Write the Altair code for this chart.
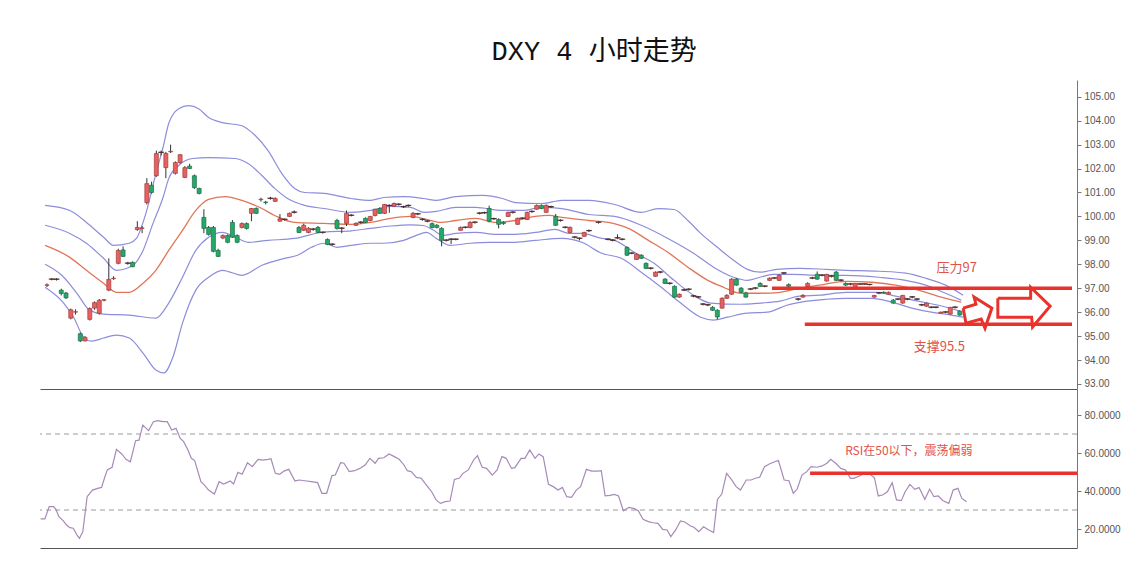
import altair as alt
import pandas as pd

# ---------------- candles (4h bars, index = bar number) ----------------
opens = [97.12, 97.38, 97.37, 96.92, 96.8, 95.75, 96.0, 95.1, 94.8, 95.7,
         96.17, 95.95, 96.5, 96.92, 97.4, 98.04, 98.6, 98.04, 98.08, 99.45,
         99.5, 100.58, 101.3, 101.7, 102.67, 102.04, 102.7, 101.8, 102.25, 101.63,
         102.1, 101.7, 101.17, 99.96, 99.54, 99.54, 98.58, 99.1, 99.2, 99.75,
         99.2, 99.54, 99.7, 100.13, 100.33, 100.7, 100.6, 100.75, 100.63, 99.8,
         99.87, 100.0, 100.17, 99.54, 99.42, 99.33, 99.46, 99.54, 99.33, 99.04,
         98.83, 99.83, 99.5, 99.71, 100.04, 99.63, 99.75, 99.92, 99.83, 100.04,
         100.33, 100.13, 100.45, 100.42, 100.5, 100.4, 100.45, 99.96, 100.1, 99.87,
         99.8, 99.7, 99.63, 99.5, 99.0, 99.04, 99.04, 99.42, 99.54, 99.54,
         99.75, 100.13, 100.15, 100.33, 99.9, 99.87, 99.75, 100.0, 100.17, 99.67,
         99.92, 99.87, 100.2, 100.3, 100.46, 100.17, 100.4, 100.0, 99.83, 99.54,
         99.33, 99.13, 99.08, 99.17, 99.4, None, 99.75, None, 99.04, 99.0,
         99.1, 99.04, 98.7, 98.46, 98.2, 98.38, 98.04, 97.83, 97.5, 97.67,
         97.38, 97.2, 97.08, 96.63, 96.92, 96.95, 96.67, 96.63, 96.33, 96.3,
         96.2, 96.08, 96.17, 96.58, 96.75, 97.38, 97.0, 96.8, 96.96, 97.0,
         97.2, 97.08, 97.33, 97.42, 97.33, 97.63, 97.15, None, 96.54, 96.63,
         97.08, 97.42, 97.58, 97.54, 97.3, 97.5, 97.67, 97.33, 97.2, 97.17,
         97.04, 97.17, 97.17, 97.15, 96.63, 96.8, 96.83, 96.75, 96.5, 96.54,
         96.38, 96.54, 96.63, 96.54, 96.3, 96.25, 96.2, 96.2, 95.96, 96.0,
         95.92, 96.2, 96.04]
highs = [97.2, 97.42, 97.42, 96.98, 96.85, 96.15, 96.12, 95.15, 95.0, 96.2,
         96.45, 96.55, 96.55, 98.25, 97.5, 98.65, 98.75, 98.1, 98.12, 99.8,
         99.6, 101.6, 101.45, 102.75, 102.75, 102.7, 103.0, 102.3, 102.6, 102.1,
         102.2, 101.75, 101.2, 100.3, 99.6, 99.6, 98.65, 99.25, 99.25, 99.85,
         99.25, 99.75, 99.75, 100.35, 100.38, 100.78, 100.65, 100.82, 100.8, 100.1,
         99.92, 100.16, 100.25, 99.6, 99.7, 99.55, 99.52, 99.6, 99.36, 99.08,
         98.88, 99.9, 99.55, 100.25, 100.1, 99.75, 99.8, 99.96, 100.02, 100.32,
         100.38, 100.52, 100.5, 100.58, 100.55, 100.45, 100.5, 100.18, 100.15, 99.92,
         99.85, 99.75, 99.68, 99.55, 99.05, 99.1, 99.08, 99.58, 99.58, 99.8,
         99.8, 100.18, 100.2, 100.45, 99.95, 99.92, 99.8, 100.2, 100.22, 99.95,
         99.96, 100.2, 100.25, 100.5, 100.5, 100.5, 100.45, 100.1, 99.88, 99.58,
         99.58, 99.18, 99.12, 99.36, 99.45, None, 99.8, None, 99.08, 99.04,
         99.25, 99.08, 98.75, 98.5, 98.45, 98.42, 98.08, 97.88, 97.7, 97.72,
         97.42, 97.25, 97.12, 96.78, 96.98, 97.0, 96.72, 96.68, 96.38, 96.35,
         96.25, 96.12, 96.62, 96.75, 97.42, 97.42, 97.05, 96.85, 97.0, 97.05,
         97.25, 97.12, 97.45, 97.46, 97.58, 97.68, 97.2, None, 96.6, 96.75,
         97.25, 97.48, 97.7, 97.58, 97.6, 97.55, 97.72, 97.38, 97.25, 97.22,
         97.22, 97.2, 97.2, 97.18, 96.72, 96.85, 96.87, 96.86, 96.55, 96.58,
         96.72, 96.58, 96.67, 96.58, 96.35, 96.4, 96.24, 96.24, 96.02, 96.04,
         96.22, 96.25, 96.08]
lows = [97.05, 97.33, 97.32, 96.7, 96.55, 95.7, 95.9, 94.75, 94.78, 95.65,
        96.1, 95.9, 96.45, 96.88, 97.35, 98.0, 98.3, 97.98, 97.88, 99.4,
        99.3, 100.5, 100.95, 101.65, 102.55, 101.6, 102.65, 101.75, 102.2, 101.6,
        101.98, 101.15, 100.92, 99.3, 99.2, 98.5, 98.3, 99.05, 98.88, 99.1,
        98.88, 99.5, 99.45, 99.8, 100.1, 100.62, 100.5, 100.7, 100.6, 99.78,
        99.82, 99.98, 100.12, 99.3, 99.4, 99.3, 99.4, 99.3, 99.28, 98.8,
        98.78, 99.45, 99.3, 99.6, 100.0, 99.6, 99.7, 99.72, 99.8, 100.0,
        100.1, 100.1, 100.15, 100.4, 100.45, 100.35, 100.4, 99.92, 100.05, 99.82,
        99.75, 99.5, 99.5, 98.75, 98.95, 98.85, 99.0, 99.4, 99.5, 99.5,
        99.7, 100.08, 100.1, 99.75, 99.85, 99.5, 99.65, 99.98, 100.12, 99.65,
        99.88, 99.85, 100.15, 100.28, 100.3, 100.15, 100.35, 99.6, 99.78, 99.5,
        99.3, 99.08, 99.0, 99.15, 99.35, None, 99.7, None, 99.0, 98.96,
        99.05, 99.0, 98.35, 98.42, 98.18, 98.22, 97.8, 97.78, 97.48, 97.62,
        97.18, 97.15, 96.6, 96.6, 96.88, 96.9, 96.62, 96.58, 96.28, 96.25,
        96.05, 95.7, 96.15, 96.55, 96.72, 97.1, 96.8, 96.6, 96.92, 96.95,
        97.05, 97.04, 97.3, 97.38, 97.3, 97.58, 97.05, None, 96.48, 96.6,
        97.05, 97.38, 97.35, 97.5, 97.28, 97.45, 97.3, 97.28, 97.1, 97.12,
        97.02, 97.14, 97.14, 97.12, 96.6, 96.75, 96.78, 96.73, 96.35, 96.5,
        96.35, 96.5, 96.58, 96.5, 96.25, 96.22, 96.16, 96.16, 95.94, 95.96,
        95.9, 96.15, 95.85]
closes = [97.14, 97.38, 97.38, 96.78, 96.6, 96.1, 96.02, 94.8, 94.95, 96.15,
          96.4, 96.5, 96.52, 97.37, 97.42, 98.58, 98.33, 98.05, 97.9, 99.54,
          99.52, 101.37, 101.0, 102.63, 102.68, 102.63, 102.72, 102.25, 102.58, 102.04,
          102.0, 101.2, 100.96, 99.5, 99.25, 98.54, 98.33, 99.2, 98.92, 99.13,
          98.92, 99.7, 99.5, 100.33, 100.13, 100.72, 100.58, 100.76, 100.75, 99.9,
          99.88, 100.13, 100.18, 99.33, 99.63, 99.5, 99.47, 99.33, 99.34, 98.83,
          98.84, 99.5, 99.51, 100.13, 100.05, 99.71, 99.76, 99.75, 100.0, 100.3,
          100.13, 100.5, 100.46, 100.54, 100.51, 100.41, 100.46, 100.13, 100.11, 99.88,
          99.81, 99.54, 99.54, 99.0, 99.01, 99.05, 99.05, 99.54, 99.55, 99.75,
          99.76, 100.14, 100.16, 99.8, 99.91, 99.67, 99.7, 100.17, 100.18, 99.92,
          99.93, 100.17, 100.21, 100.46, 100.33, 100.46, 100.41, 99.63, 99.84, 99.55,
          99.54, 99.14, 99.09, 99.33, 99.41, None, 99.76, None, 99.05, 99.01,
          99.11, 99.05, 98.38, 98.47, 98.42, 98.25, 97.83, 97.84, 97.67, 97.68,
          97.2, 97.21, 96.63, 96.75, 96.93, 96.96, 96.68, 96.64, 96.34, 96.31,
          96.08, 95.8, 96.58, 96.7, 97.38, 97.13, 96.83, 96.63, 96.97, 97.01,
          97.08, 97.09, 97.42, 97.43, 97.54, 97.64, 97.08, None, 96.55, 96.7,
          97.2, 97.43, 97.38, 97.55, 97.58, 97.51, 97.33, 97.34, 97.13, 97.18,
          97.2, 97.18, 97.18, 97.16, 96.7, 96.81, 96.8, 96.83, 96.38, 96.55,
          96.7, 96.55, 96.64, 96.55, 96.31, 96.38, 96.21, 96.21, 96.0, 96.01,
          96.2, 96.21, 95.88]

# ---------------- Bollinger-style bands (bar, price) ----------------
ub2_bar = [-0.4, 4.8, 8.3, 11.9, 14.0, 17.3, 18.8, 20.8, 22.9, 24.4, 25.6, 27.7, 29.8, 31.9, 34.0, 36.9,
           41.0, 43.8, 46.5, 49.4, 52.1, 54.2, 58.3, 64.0, 68.1, 70.8, 75.0, 79.2, 81.9, 86.0, 91.7,
           95.8, 98.5, 104.2, 108.3, 114.0, 119.4, 125.0, 128.5, 131.9, 134.8, 137.5, 141.0, 144.4,
           147.3, 150.0, 153.5, 158.3, 163.9, 168.1, 175.0, 180.6, 184.8, 189.0, 192.7]
ub2_val = [100.46, 100.25, 99.75, 99.13, 98.79, 98.88, 99.08, 100.13, 101.79, 102.88, 103.88, 104.5,
           104.63, 104.5, 104.13, 103.92, 103.79, 103.38, 102.75, 101.79, 101.17, 101.0, 100.96, 100.75,
           100.67, 100.79, 100.83, 100.75, 100.67, 100.83, 100.88, 100.75, 100.58, 100.54, 100.67,
           100.67, 100.5, 100.17, 100.33, 100.29, 99.83, 99.29, 98.71, 98.17, 97.79, 97.67, 97.79,
           97.83, 97.79, 97.75, 97.71, 97.63, 97.42, 97.13, 96.71]
ub1_bar = [-0.4, 4.8, 8.3, 11.9, 14.6, 18.1, 20.2, 22.3, 24.4, 25.6, 27.7, 30.6, 34.0, 39.6, 42.3, 45.2,
           47.9, 50.6, 54.2, 58.3, 64.0, 68.1, 72.3, 76.5, 79.2, 81.9, 86.0, 90.2, 95.8, 100.0, 104.2,
           108.3, 114.0, 119.4, 125.0, 130.6, 136.0, 140.2, 144.4, 147.3, 150.0, 152.7, 156.9, 162.5,
           168.1, 175.0, 180.6, 184.8, 189.0, 192.3]
ub1_val = [99.63, 99.29, 98.88, 98.25, 97.75, 97.96, 98.58, 99.71, 100.79, 101.58, 102.13, 102.42,
           102.46, 102.42, 102.21, 101.71, 101.17, 100.75, 100.46, 100.33, 100.17, 100.25, 100.42,
           100.38, 100.17, 100.21, 100.38, 100.38, 100.25, 100.25, 100.38, 100.33, 100.08, 100.0,
           99.63, 99.08, 98.46, 97.88, 97.46, 97.33, 97.46, 97.58, 97.58, 97.54, 97.54, 97.46, 97.33,
           97.13, 96.79, 96.5]
mid_bar = [-0.4, 4.8, 8.3, 11.9, 14.6, 17.3, 20.2, 22.9, 25.6, 28.5, 31.3, 34.0, 37.5, 41.0, 45.2, 47.9,
           52.1, 58.3, 64.0, 68.1, 72.3, 76.5, 79.8, 82.7, 86.0, 90.2, 94.4, 98.5, 102.7, 105.6, 108.3,
           114.0, 118.1, 122.3, 126.5, 130.6, 134.8, 139.0, 142.3, 145.8, 150.0, 154.2, 158.3, 162.5,
           168.1, 173.5, 178.5, 183.3, 188.1, 192.3]
mid_val = [98.79, 98.29, 97.75, 97.21, 96.83, 96.83, 97.21, 97.75, 98.58, 99.42, 100.25, 100.71, 100.83,
           100.67, 100.33, 100.04, 99.75, 99.71, 99.67, 99.75, 99.92, 100.0, 99.88, 99.75, 99.83, 99.92,
           99.75, 99.83, 100.0, 100.04, 99.96, 99.83, 99.75, 99.5, 99.0, 98.5, 97.88, 97.33, 97.04,
           96.79, 96.79, 96.83, 97.0, 97.13, 97.29, 97.25, 97.13, 96.92, 96.63, 96.42]
lb1_bar = [-0.4, 3.1, 6.3, 9.0, 11.9, 17.3, 22.9, 25.6, 28.5, 31.3, 34.0, 36.9, 39.6, 42.3, 46.5, 52.1,
           58.3, 64.0, 68.1, 72.3, 76.5, 79.2, 81.3, 83.3, 86.0, 90.2, 94.4, 98.5, 102.7, 106.9, 109.8,
           112.5, 116.7, 119.4, 123.5, 127.7, 131.9, 136.0, 139.6, 145.8, 150.0, 154.2, 158.3, 162.5,
           168.1, 174.4, 178.5, 183.3, 187.5, 192.1]
lb1_val = [98.0, 97.54, 96.79, 96.08, 95.92, 95.88, 95.75, 96.38, 97.46, 98.58, 99.13, 99.33, 99.13,
           98.92, 99.0, 99.08, 99.35, 99.4, 99.5, 99.6, 99.65, 99.62, 99.42, 99.21, 99.29, 99.33, 99.25,
           99.25, 99.33, 99.46, 99.29, 99.29, 99.08, 99.0, 98.5, 98.04, 97.33, 96.71, 96.38, 96.33,
           96.38, 96.46, 96.67, 96.71, 96.83, 96.83, 96.67, 96.46, 96.29, 96.04]
lb2_bar = [-0.4, 3.5, 5.6, 7.7, 9.4, 11.9, 14.6, 17.3, 20.2, 22.9, 24.6, 26.5, 28.5, 31.3, 34.0, 36.9,
           41.0, 45.2, 50.0, 52.7, 55.6, 58.3, 61.0, 64.0, 68.1, 70.8, 75.0, 77.7, 79.8, 81.9, 84.8,
           89.0, 93.1, 98.5, 102.7, 108.3, 112.5, 116.7, 120.8, 125.0, 129.2, 133.3, 137.5, 140.2,
           143.1, 147.3, 151.5, 155.6, 159.8, 163.9, 168.1, 173.5, 177.7, 181.9, 186.0, 190.2, 192.7]
lb2_val = [97.04, 96.38, 95.79, 94.96, 94.79, 94.92, 95.04, 94.92, 94.29, 93.58, 93.46, 94.13, 95.54,
           96.92, 97.46, 97.75, 97.54, 97.96, 98.25, 98.38, 98.71, 98.88, 98.71, 98.79, 98.88, 98.88,
           99.0, 99.21, 99.33, 99.08, 98.79, 98.88, 98.92, 98.92, 99.0, 99.08, 98.92, 98.46, 98.25,
           97.67, 97.04, 96.38, 95.79, 95.67, 95.79, 95.96, 96.0, 96.29, 96.46, 96.54, 96.58, 96.58,
           96.42, 96.17, 96.0, 95.88, 95.79]

# ---------------- RSI (bar, value) ----------------
rsi_bar = [-0.3, 0.6, 1.5, 2.4, 2.9, 3.5, 4.4, 5.1, 5.8, 6.5, 7.3, 7.8, 8.5, 9.4, 10.5, 11.6, 12.4, 13.0,
           13.6, 14.6, 15.5, 16.6, 17.5, 18.4, 19.5, 20.2, 21.0, 22.2, 23.2, 24.1, 25.2, 26.1, 27.0, 27.9,
           28.8, 29.5, 30.4, 31.1, 31.8, 33.1, 33.8, 34.7, 35.9, 36.9, 37.8, 38.5, 39.2, 39.9, 40.8, 41.7,
           42.8, 43.8, 45.0, 46.0, 47.1, 47.7, 48.6, 49.5, 50.4, 51.4, 52.7, 53.6, 54.7, 56.1, 57.4, 58.3,
           59.3, 60.4, 61.1, 62.2, 62.9, 64.0, 65.1, 66.2, 67.3, 68.3, 69.4, 70.1, 71.2, 72.3, 73.4, 74.4,
           75.4, 76.1, 76.9, 78.0, 79.0, 79.8, 80.5, 81.3, 82.1, 83.0, 84.0, 85.0, 85.9, 86.9, 87.7, 88.8,
           89.9, 90.7, 91.7, 92.6, 93.8, 94.8, 95.8, 96.7, 97.8, 98.5, 99.8, 100.6, 101.6, 102.7, 103.5,
           104.4, 105.5, 106.5, 107.5, 108.4, 109.3, 110.3, 111.3, 112.2, 113.4, 114.5, 115.7, 116.5,
           117.3, 118.3, 119.2, 120.1, 121.1, 122.3, 123.4, 124.2, 125.2, 126.3, 127.3, 128.3, 129.3,
           130.2, 131.0, 132.0, 133.0, 133.9, 135.1, 135.8, 136.8, 137.8, 138.9, 139.9, 140.7, 141.6,
           142.6, 143.6, 144.6, 145.5, 146.7, 147.7, 148.6, 149.5, 150.5, 151.5, 152.6, 153.4, 154.6,
           155.6, 156.5, 157.3, 158.3, 159.3, 160.2, 161.4, 162.5, 163.5, 164.3, 165.5, 166.4, 167.4,
           168.4, 169.1, 170.3, 171.5, 172.5, 173.4, 174.2, 175.1, 176.1, 177.1, 178.0, 179.0, 179.8,
           180.8, 181.8, 182.7, 183.9, 184.9, 185.8, 186.7, 187.7, 188.9, 189.8, 190.8, 191.6, 192.6]
rsi_val = [25.3, 25.3, 31.8, 31.8, 30.4, 26.5, 24.4, 22.1, 20.7, 20.4, 16.8, 15.1, 18.6, 37.0, 40.5, 41.4,
           41.9, 46.7, 51.1, 52.5, 61.9, 59.5, 56.7, 55.4, 66.5, 66.8, 74.7, 71.8, 76.5, 77.0, 76.5, 76.5,
           72.1, 73.0, 67.7, 66.0, 61.6, 57.2, 56.0, 44.9, 43.2, 40.5, 38.4, 44.9, 43.7, 44.4, 45.3, 43.7,
           49.8, 48.8, 54.9, 52.8, 56.7, 56.3, 56.7, 57.0, 49.3, 48.8, 50.5, 51.4, 45.3, 45.8, 45.4, 44.9,
           44.4, 38.8, 38.8, 48.1, 48.4, 54.9, 54.6, 50.2, 50.7, 51.9, 53.7, 57.2, 54.6, 57.2, 57.5, 59.5,
           58.1, 56.7, 53.7, 50.7, 50.2, 47.2, 46.7, 44.0, 41.8, 39.1, 35.3, 33.5, 34.4, 34.7, 46.1, 46.7,
           49.3, 51.1, 56.3, 58.6, 52.5, 51.9, 48.4, 51.1, 58.1, 57.2, 51.9, 52.3, 57.2, 57.2, 61.6, 57.2,
           59.5, 58.1, 43.5, 42.3, 40.5, 41.9, 37.0, 36.7, 40.5, 42.3, 51.4, 50.5, 50.5, 50.7, 37.4, 37.7,
           38.2, 37.4, 29.6, 31.4, 30.7, 29.6, 25.1, 23.9, 23.3, 23.0, 19.8, 19.5, 16.0, 19.5, 24.2, 23.7,
           21.6, 20.9, 18.6, 21.2, 19.5, 18.1, 35.6, 38.4, 49.3, 46.1, 42.3, 40.5, 45.8, 45.8, 46.7, 47.2,
           52.8, 54.2, 55.4, 56.0, 45.8, 45.4, 38.8, 40.9, 48.4, 50.2, 52.8, 52.5, 53.2, 54.6, 56.7, 54.2,
           51.9, 51.1, 46.7, 46.7, 47.9, 49.6, 48.8, 47.0, 37.4, 37.9, 39.6, 44.4, 35.3, 34.9, 39.6, 43.5,
           40.9, 41.8, 35.6, 40.9, 37.0, 37.4, 34.9, 33.5, 40.5, 41.4, 36.1, 34.4]

# ---------------- annotations ----------------
level_price = [97.0, 95.5]
level_start = [152.5, 159.4]
rsi_level = 49.4
rsi_level_start = 160.0
rsi_guides = [70, 30]
x_end = 215.6

arrow_small_bar = [192.7, 195.4, 195.0, 198.75, 197.3, 196.5, 193.3, 192.7]
arrow_small_val = [96.17, 96.33, 96.63, 96.17, 95.33, 95.71, 95.54, 96.17]
arrow_big_bar = [200.0, 206.9, 206.9, 211.0, 207.3, 207.1, 200.0, 200.0]
arrow_big_val = [96.58, 96.58, 97.04, 96.25, 95.38, 95.79, 95.79, 96.58]

labels_main = ["压力97", "支撑95.5"]
labels_main_bar = [187.1, 182.3]
labels_main_val = [97.83, 94.54]
label_rsi = "RSI在50以下，震荡偏弱"
label_rsi_bar = 167.3
label_rsi_val = 61.0

# ---------------- data frames ----------------
rows = []
for i, (o, h, l, c) in enumerate(zip(opens, highs, lows, closes)):
    if o is None:
        continue
    rows.append(dict(bar=i, open=o, high=h, low=l, close=c,
                     dir="up" if c >= o else "down", doji=abs(c - o) <= 0.015))
candles = pd.DataFrame(rows)

band_parts = []
for name, bx, bv in [("ub2", ub2_bar, ub2_val), ("ub1", ub1_bar, ub1_val),
                     ("lb1", lb1_bar, lb1_val), ("lb2", lb2_bar, lb2_val)]:
    band_parts.append(pd.DataFrame({"bar": bx, "val": bv, "band": name}))
bands = pd.concat(band_parts, ignore_index=True)
mid = pd.DataFrame({"bar": mid_bar, "val": mid_val})
rsi = pd.DataFrame({"bar": rsi_bar, "val": rsi_val})

levels = pd.DataFrame({"val": level_price, "bar": level_start, "bar2": [x_end] * len(level_price)})
arrows = pd.concat([
    pd.DataFrame({"bar": arrow_small_bar, "val": arrow_small_val, "arrow": "a", "k": range(len(arrow_small_bar))}),
    pd.DataFrame({"bar": arrow_big_bar, "val": arrow_big_val, "arrow": "b", "k": range(len(arrow_big_bar))}),
], ignore_index=True)
texts = pd.DataFrame({"bar": labels_main_bar, "val": labels_main_val, "t": labels_main})

RED = "#e8322b"
TXT = "#e0524a"
BAND = "#8d8ddc"
MID = "#e27558"

xs = alt.Scale(domain=[-0.42, x_end], nice=False, zero=False)
xax = alt.Axis(labels=False, ticks=False, grid=False, domain=True, domainColor="#555",
               domainWidth=1, title=None)
ys = alt.Scale(domain=[92.79, 105.7], nice=False, zero=False)
yax = alt.Axis(orient="right", values=list(range(93, 106)), format=".2f", title=None, grid=False,
               labelFont="Liberation Sans", labelFontSize=10, labelColor="#555",
               tickColor="#777", tickSize=4, domainColor="#777", labelPadding=3)


def X(f="bar"):
    return alt.X(f, type="quantitative", scale=xs, axis=xax)


def Y(f):
    return alt.Y(f, type="quantitative", scale=ys, axis=yax)


band_layer = alt.Chart(bands).mark_line(color=BAND, strokeWidth=1.2, interpolate="monotone").encode(
    x=X(), y=Y("val"), detail="band:N")
mid_layer = alt.Chart(mid).mark_line(color=MID, strokeWidth=1.3, interpolate="monotone").encode(
    x=X(), y=Y("val"))
wicks = alt.Chart(candles).mark_rule(color="#333", strokeWidth=1).encode(
    x=X(), y=Y("low"), y2="high")
bodies = alt.Chart(candles).mark_bar(size=4, strokeWidth=0.7).encode(
    x=X(), y=Y("open"), y2="close",
    fill=alt.Fill("dir:N", scale=alt.Scale(domain=["up", "down"], range=["#e8605f", "#27a86b"]), legend=None),
    stroke=alt.Stroke("dir:N", scale=alt.Scale(domain=["up", "down"], range=["#a23b3b", "#1a6e46"]), legend=None))
dojis = alt.Chart(candles).transform_filter("datum.doji").mark_tick(
    orient="horizontal", size=6, thickness=1.2, color="#222").encode(x=X(), y=Y("close"))
level_layer = alt.Chart(levels).mark_rule(color=RED, strokeWidth=3.5).encode(
    x=X(), x2="bar2", y=Y("val"))
arrow_layer = alt.Chart(arrows).mark_line(color=RED, strokeWidth=3, strokeJoin="miter").encode(
    x=X(), y=Y("val"), detail="arrow:N", order="k:Q")
text_layer = alt.Chart(texts).mark_text(align="left", baseline="middle", font="Noto Sans CJK SC",
                                        fontSize=13, color=TXT).encode(x=X(), y=Y("val"), text="t:N")

main = alt.layer(band_layer, mid_layer, wicks, bodies, dojis, level_layer, arrow_layer, text_layer
                 ).properties(width=1037, height=309)

rys = alt.Scale(domain=[10, 93.7], nice=False, zero=False)
ryax = alt.Axis(orient="right", values=[20, 40, 60, 80], format=".4f", title=None, grid=False,
                labelFont="Liberation Sans", labelFontSize=10, labelColor="#555",
                tickColor="#777", tickSize=4, domainColor="#777", labelPadding=3)


def RY(f):
    return alt.Y(f, type="quantitative", scale=rys, axis=ryax)


guides = alt.Chart(pd.DataFrame({"val": rsi_guides})).mark_rule(
    color="#9a9a9a", strokeDash=[5, 4], strokeWidth=1).encode(y=RY("val"))
rsi_line = alt.Chart(rsi).mark_line(color="#a68ab8", strokeWidth=1.2).encode(x=X(), y=RY("val"))
rsi_red = alt.Chart(pd.DataFrame({"bar": [rsi_level_start], "bar2": [x_end], "val": [rsi_level]})
                    ).mark_rule(color=RED, strokeWidth=3.5).encode(x=X(), x2="bar2", y=RY("val"))
rsi_text = alt.Chart(pd.DataFrame({"bar": [label_rsi_bar], "val": [label_rsi_val], "t": [label_rsi]})
                     ).mark_text(align="left", baseline="middle", font="Noto Sans CJK SC",
                                 fontSize=12, color=TXT).encode(x=X(), y=RY("val"), text="t:N")

lower = alt.layer(guides, rsi_line, rsi_red, rsi_text).properties(width=1037, height=159)

chart = alt.vconcat(main, lower, spacing=0).properties(
    title=alt.TitleParams("DXY 4 小时走势", font="Liberation Mono, Noto Sans CJK SC", fontSize=27,
                          fontWeight="normal", color="#111", anchor="middle", offset=14, dx=15),
    padding={"left": 30, "top": 30, "right": 5, "bottom": 5},
    background="white",
).configure_view(stroke=None)

chart.save("out.html", embed_options={"renderer": "svg", "actions": False})
